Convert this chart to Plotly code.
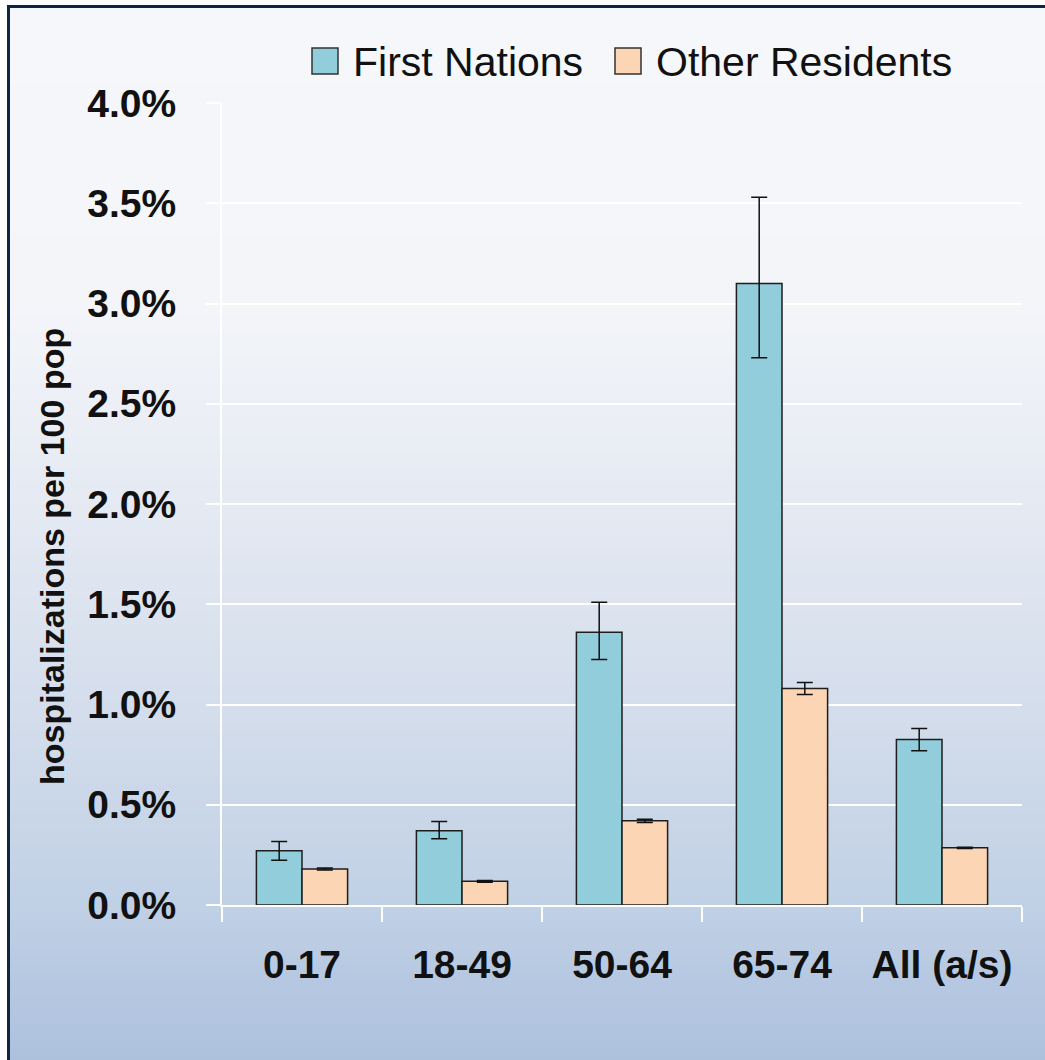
import plotly.graph_objects as go

# ---- data (percent) ----
categories = ["0-17", "18-49", "50-64", "65-74", "All (a/s)"]
series_names = ["First Nations", "Other Residents"]
first_nations = [0.27, 0.37, 1.36, 3.10, 0.825]
fn_err_plus = [0.047, 0.046, 0.15, 0.43, 0.055]
fn_err_minus = [0.047, 0.040, 0.135, 0.37, 0.056]
other_residents = [0.18, 0.118, 0.42, 1.08, 0.285]
or_err = [0.005, 0.004, 0.008, 0.030, 0.003]
y_ticks = [0.0, 0.5, 1.0, 1.5, 2.0, 2.5, 3.0, 3.5, 4.0]
y_tick_text = ["%.1f%%" % v for v in y_ticks]

colors = ["#92CDDC", "#FCD5B5"]
edge = "#1e1e1e"

W, H = 1045, 1060
L, R, T, B = 222, 1022, 103, 905
PW, PH = R - L, B - T


def xp(px):
    return (px - L) / PW


def yp(py):
    return (B - py) / PH


fig = go.Figure()
fig.add_trace(go.Bar(
    x=categories, y=first_nations, name=series_names[0],
    marker=dict(color=colors[0], line=dict(color=edge, width=1.5)),
    error_y=dict(type="data", symmetric=False, array=fn_err_plus,
                 arrayminus=fn_err_minus, color="#111111", thickness=1.5, width=8),
))
fig.add_trace(go.Bar(
    x=categories, y=other_residents, name=series_names[1],
    marker=dict(color=colors[1], line=dict(color=edge, width=1.5)),
    error_y=dict(type="data", array=or_err, color="#111111", thickness=1.5, width=8),
))

# ---- background gradient (decorative) ----
grad_stops = [(0.0, (245, 247, 250)), (0.28, (243, 245, 249)), (0.48, (228, 233, 242)),
              (0.68, (210, 220, 235)), (0.85, (192, 208, 229)), (1.0, (172, 192, 221))]


def grad(t):
    for (t0, c0), (t1, c1) in zip(grad_stops[:-1], grad_stops[1:]):
        if t <= t1:
            f = (t - t0) / (t1 - t0) if t1 > t0 else 0
            return "rgb(%d,%d,%d)" % tuple(round(a + (b - a) * f) for a, b in zip(c0, c1))
    return "rgb(%d,%d,%d)" % grad_stops[-1][1]


shapes = []
top_px, bot_px = 8, H + 2
N = 140
for i in range(N):
    y0 = top_px + (bot_px - top_px) * i / N
    y1 = top_px + (bot_px - top_px) * (i + 1) / N + 1
    shapes.append(dict(type="rect", xref="paper", yref="paper", layer="below",
                       x0=xp(9), x1=xp(W + 5), y0=yp(y1), y1=yp(y0),
                       fillcolor=grad((y0 - top_px) / (bot_px - top_px)),
                       line=dict(width=0)))
# dark frame (left and top edges visible; right/bottom outside the picture)
shapes.append(dict(type="rect", xref="paper", yref="paper", layer="below",
                   x0=xp(8.5), x1=xp(W + 20), y0=yp(H + 20), y1=yp(6.5),
                   fillcolor="rgba(0,0,0,0)",
                   line=dict(color="#0F2640", width=3)))

# ---- manual legend ----
annotations = []
legend_items = [(312, 351), (615, 654)]
for (bx, tx), name, col in zip(legend_items, series_names, colors):
    shapes.append(dict(type="rect", xref="paper", yref="paper",
                       x0=xp(bx), x1=xp(bx + 26), y0=yp(74), y1=yp(48),
                       fillcolor=col, line=dict(color="#333333", width=1.5)))
    annotations.append(dict(xref="paper", yref="paper", x=xp(tx), y=yp(62),
                            xanchor="left", yanchor="middle", showarrow=False,
                            text=name,
                            font=dict(family="Liberation Sans, Arial, sans-serif",
                                      size=41, color="#111111")))

# y axis title as annotation
annotations.append(dict(xref="paper", yref="paper", x=xp(52), y=yp(557),
                        xanchor="center", yanchor="middle", showarrow=False,
                        textangle=-90, text="hospitalizations per 100 pop",
                        font=dict(family="Liberation Sans, Arial, sans-serif",
                                  size=34, color="#111111", weight="bold")))

fig.update_layout(
    width=W, height=H,
    margin=dict(l=L, r=W - R, t=T, b=H - B, autoexpand=False),
    paper_bgcolor="white",
    plot_bgcolor="rgba(0,0,0,0)",
    barmode="group", bargap=0.43, bargroupgap=0.0,
    showlegend=False,
    shapes=shapes,
    annotations=annotations,
    xaxis=dict(
        type="category", showgrid=False, zeroline=False,
        showline=True, linecolor="white", linewidth=2,
        ticks="outside", tickson="boundaries", ticklen=15, tickcolor="white", tickwidth=2,
        ticklabelstandoff=24,
        tickfont=dict(family="Liberation Sans, Arial, sans-serif", size=39,
                      color="#111111", weight="bold"),
        automargin=False,
    ),
    yaxis=dict(
        range=[0, 4.0], tickvals=y_ticks, ticktext=y_tick_text,
        showgrid=True, gridcolor="white", gridwidth=2, zeroline=False,
        showline=True, linecolor="white", linewidth=2,
        ticks="outside", ticklen=14, tickcolor="white", tickwidth=2,
        ticklabelstandoff=22,
        tickfont=dict(family="Liberation Sans, Arial, sans-serif", size=39,
                      color="#111111", weight="bold"),
        automargin=False,
    ),
)

fig.write_html(
    "out.html",
    config={"displayModeBar": False},
    post_script="document.body.style.margin='0';document.body.style.overflow='hidden';"
                "document.documentElement.style.overflow='hidden';",
)
